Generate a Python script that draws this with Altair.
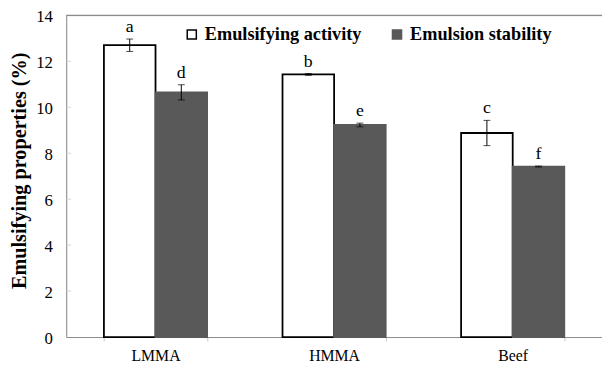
import altair as alt
import pandas as pd

categories = ["LMMA", "HMMA", "Beef"]
series = ["Emulsifying activity", "Emulsion stability"]
activity = [12.70, 11.43, 8.88]
activity_err = [0.27, 0.04, 0.55]
stability = [10.65, 9.23, 7.42]
stability_err = [0.33, 0.08, 0.02]
activity_letters = ["a", "b", "c"]
stability_letters = ["d", "e", "f"]
y_ticks = [0, 2, 4, 6, 8, 10, 12, 14]

rows = []
for i, c in enumerate(categories):
    rows.append({"cat": c, "series": series[0], "value": activity[i], "err": activity_err[i], "letter": activity_letters[i]})
    rows.append({"cat": c, "series": series[1], "value": stability[i], "err": stability_err[i], "letter": stability_letters[i]})
df = pd.DataFrame(rows)
df["lo"] = df["value"] - df["err"]
df["hi"] = df["value"] + df["err"]

FONT = "Liberation Serif"
GRID = "#8c8c8c"

x_enc = alt.X(
    "cat:N",
    sort=categories,
    scale=alt.Scale(paddingInner=0.4222, paddingOuter=0.2111),
    axis=alt.Axis(
        title=None, labelAngle=0, labelFont=FONT, labelFontSize=16, labelColor="black",
        labelPadding=7, domainColor=GRID, tickColor="#c8c8c8", tickSize=4, tickBand="extent",
    ),
)
xoff = alt.XOffset("series:N", sort=series, scale=alt.Scale(paddingInner=0, paddingOuter=0))
y_scale = alt.Scale(domain=[0, 14], nice=False)

base = alt.Chart(df)

bars = base.mark_bar(strokeWidth=1.8).encode(
    x=x_enc,
    xOffset=xoff,
    y=alt.Y(
        "value:Q", scale=y_scale,
        axis=alt.Axis(
            title="Emulsifying properties (%)", titleFont=FONT, titleFontSize=20.5, titleFontWeight="bold",
            titleColor="black", titleX=-41, titleY=157, titleAngle=-90, titleBaseline="alphabetic",
            values=y_ticks, labelFont=FONT, labelFontSize=17, labelColor="black", labelPadding=14,
            labelOffset=1.5, ticks=False, grid=False, domainColor=GRID,
        ),
    ),
    fill=alt.Fill(
        "series:N", sort=series,
        scale=alt.Scale(domain=series, range=["white", "#595959"]),
        legend=alt.Legend(
            title=None, orient="none", legendX=118, legendY=10, direction="horizontal",
            symbolType="square", symbolSize=85, symbolStrokeWidth=1.5, labelFont=FONT,
            labelFontSize=18.5, labelFontWeight="bold", labelColor="black", columnPadding=26,
            labelOffset=4,
        ),
    ),
    stroke=alt.Stroke(
        "series:N", sort=series,
        scale=alt.Scale(domain=series, range=["black", "#595959"]),
        legend=None,
    ),
)

err_rule = base.mark_rule(color="black", strokeWidth=1).encode(
    x=x_enc, xOffset=xoff, y="lo:Q", y2="hi:Q"
)
cap_hi = base.mark_tick(color="black", size=7, thickness=1).encode(
    x=x_enc, xOffset=xoff, y=alt.Y("hi:Q", scale=y_scale)
)
cap_lo = base.mark_tick(color="black", size=7, thickness=1).encode(
    x=x_enc, xOffset=xoff, y=alt.Y("lo:Q", scale=y_scale)
)
letters = base.mark_text(font=FONT, fontSize=18, baseline="bottom", dy=-3, color="black").encode(
    x=x_enc, xOffset=xoff, y=alt.Y("hi:Q", scale=y_scale), text="letter:N"
)

tick_df = pd.DataFrame({"t": y_ticks[1:]})
yticks = alt.Chart(tick_df).mark_tick(color="#c8c8c8", size=5, thickness=1).encode(
    x=alt.value(2.5), y=alt.Y("t:Q", scale=y_scale)
)
top_df = pd.DataFrame({"t": [14]})
top_line = alt.Chart(top_df).mark_rule(color=GRID, strokeWidth=1.2).encode(
    y=alt.Y("t:Q", scale=y_scale)
)

chart = alt.layer(bars, err_rule, cap_hi, cap_lo, letters, yticks, top_line).properties(
    width=543, height=326,
    autosize=alt.AutoSizeParams(type="none"),
    padding={"left": 59, "top": 5, "right": 0, "bottom": 35},
).configure_view(stroke=None).configure(background="white")

chart.save("out.html", embed_options={"renderer": "svg", "actions": False})
